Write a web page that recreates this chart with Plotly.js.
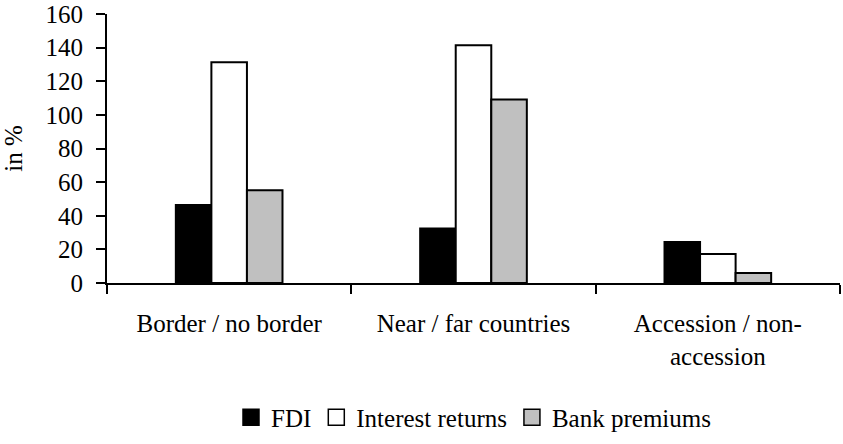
<!DOCTYPE html>
<html>
<head>
<meta charset="utf-8">
<script src="https://cdn.plot.ly/plotly-3.0.1.min.js"></script>
<style>html,body{margin:0;padding:0;background:#fff;}#chart{width:843px;height:444px;}</style>
</head>
<body>
<div id="chart"></div>
<script>
var categories = ["Border / no border", "Near / far countries", "Accession / non-<br>accession"];
var seriesNames = ["FDI", "Interest returns", "Bank premiums"];
var fdi = [46.4, 32.4, 24.4];
var interestReturns = [131.3, 141.4, 17.2];
var bankPremiums = [55.1, 109.2, 5.9];
var yTicks = [0, 20, 40, 60, 80, 100, 120, 140, 160];
var colors = ["#000000", "#ffffff", "#c0c0c0"];

var seriesValues = [fdi, interestReturns, bankPremiums];
var FONT = "Liberation Serif, Times New Roman, Times, DejaVu Serif, serif";

var traces = [];
seriesValues.forEach(function (vals, i) {
  traces.push({
    type: "bar",
    x: categories,
    y: vals,
    name: seriesNames[i],
    showlegend: false,
    legendgroup: "g" + i,
    marker: { color: colors[i], line: { color: "#000", width: 2 } },
    hoverinfo: "x+y+name"
  });
});
seriesNames.forEach(function (n, i) {
  traces.push({
    type: "scatter",
    mode: "markers",
    x: [null],
    y: [null],
    name: n,
    legendgroup: "g" + i,
    showlegend: true,
    marker: { symbol: "square", size: 16, color: colors[i], line: { color: "#000", width: 1.5 } }
  });
});

var layout = {
  width: 843,
  height: 444,
  margin: { l: 107, r: 3, t: 14, b: 155, pad: 0 },
  paper_bgcolor: "#fff",
  plot_bgcolor: "#fff",
  font: { family: FONT, size: 25, color: "#000" },
  barmode: "group",
  bargap: 0.5635,
  bargroupgap: 0,
  showlegend: true,
  legend: {
    orientation: "h",
    x: 0.5, xanchor: "center",
    y: -0.50, yanchor: "middle",
    font: { family: FONT, size: 25, color: "#000" },
    itemclick: false,
    tracegroupgap: 0,
    itemwidth: 30
  },
  xaxis: {
    type: "category",
    showline: true, linecolor: "#000", linewidth: 2,
    ticks: "outside", tickson: "boundaries", ticklen: 9, tickwidth: 2, tickcolor: "#000",
    showgrid: false, zeroline: false,
    ticklabelstandoff: 17,
    tickfont: { family: FONT, size: 25, color: "#000" },
    fixedrange: true
  },
  yaxis: {
    range: [0, 160],
    tickvals: yTicks,
    ticktext: yTicks.map(String),
    showline: true, linecolor: "#000", linewidth: 2,
    ticks: "outside", ticklen: 9, tickwidth: 2, tickcolor: "#000",
    showgrid: false, zeroline: false,
    ticklabelstandoff: 8,
    tickfont: { family: FONT, size: 25, color: "#000" },
    title: { text: "in %", font: { family: FONT, size: 25, color: "#000" }, standoff: 18 },
    automargin: false,
    fixedrange: true
  }
};

Plotly.newPlot("chart", traces, layout, { displayModeBar: false, staticPlot: true });
</script>
</body>
</html>
